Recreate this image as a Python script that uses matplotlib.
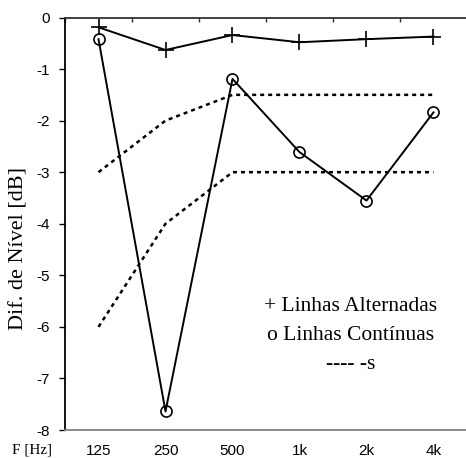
import matplotlib
matplotlib.use('Agg')
import matplotlib.pyplot as plt
from matplotlib.ticker import FixedLocator

plt.rcParams['axes.unicode_minus'] = False

# category labels and series
freqs = ['125', '250', '500', '1k', '2k', '4k']
alternadas = [-0.19, -0.63, -0.34, -0.48, -0.42, -0.37]
continuas = [-0.42, -7.64, -1.19, -2.61, -3.55, -1.84]
limite_sup = [-3.0, -2.0, -1.5, -1.5, -1.5, -1.5]
limite_inf = [-6.0, -4.0, -3.0, -3.0, -3.0, -3.0]
y_ticks = [0, -1, -2, -3, -4, -5, -6, -7, -8]

W, H = 466, 458
fig = plt.figure(figsize=(W / 100, H / 100), dpi=100)
fig.patch.set_facecolor('white')
ax = fig.add_axes([65 / W, 28 / H, 402 / W, 412.5 / H])

x = list(range(len(freqs)))

# dotted limit curves
for lim in (limite_sup, limite_inf):
    ax.plot(x, lim, color='black', linewidth=1.8, linestyle=(0, (1.6, 1.6)))

# measured series
ax.plot(x, alternadas, color='black', linewidth=1.4, marker='+',
        markersize=11, markeredgewidth=1.2, zorder=5)
ax.plot(x, continuas, color='black', linewidth=1.4, marker='o',
        markersize=8, markerfacecolor='none', markeredgewidth=1.2, zorder=5)

ax.set_xlim(-0.5, 5.5)
ax.set_ylim(-8, 0)

# spines: category axis crosses at 0 (top), plot border at bottom
ax.spines['right'].set_visible(False)
ax.spines['left'].set_color('black')
ax.spines['left'].set_linewidth(1.3)
ax.spines['top'].set_color('#333333')
ax.spines['top'].set_linewidth(1.3)
ax.spines['bottom'].set_color('#808080')
ax.spines['bottom'].set_linewidth(1.3)

ax.set_xticks(x)
ax.set_xticklabels(freqs, family='Liberation Sans', fontsize=11)
ax.xaxis.set_minor_locator(FixedLocator([i + 0.5 for i in range(-1, 6)]))
ax.tick_params(axis='x', which='major', bottom=True, top=False, length=0, pad=10)
ax.tick_params(axis='x', which='minor', bottom=False, top=True, direction='in',
               length=3, width=1, color='#333333')

ax.set_yticks(y_ticks)
ax.set_yticklabels([str(v) for v in y_ticks], family='Liberation Sans', fontsize=11)
ax.tick_params(axis='y', direction='out', length=4, width=1, pad=7)

ax.set_ylabel('Dif. de Nível [dB]', family='Liberation Serif', fontsize=16)
ax.yaxis.set_label_coords(-0.09, 0.44)

fig.text(12 / W, 1 - 450 / H, 'F [Hz]', family='Liberation Serif', fontsize=11,
         ha='left', va='center')

# legend written as text block
leg_lines = ['+ Linhas Alternadas', 'o Linhas Contínuas', '---- -s']
leg_y = [0.299, 0.230, 0.158]
for txt, yy in zip(leg_lines, leg_y):
    ax.text(0.711, yy, txt, transform=ax.transAxes, family='Liberation Serif',
            fontsize=15.5, ha='center', va='center')

plt.savefig('out.png', dpi=100, facecolor='white')
